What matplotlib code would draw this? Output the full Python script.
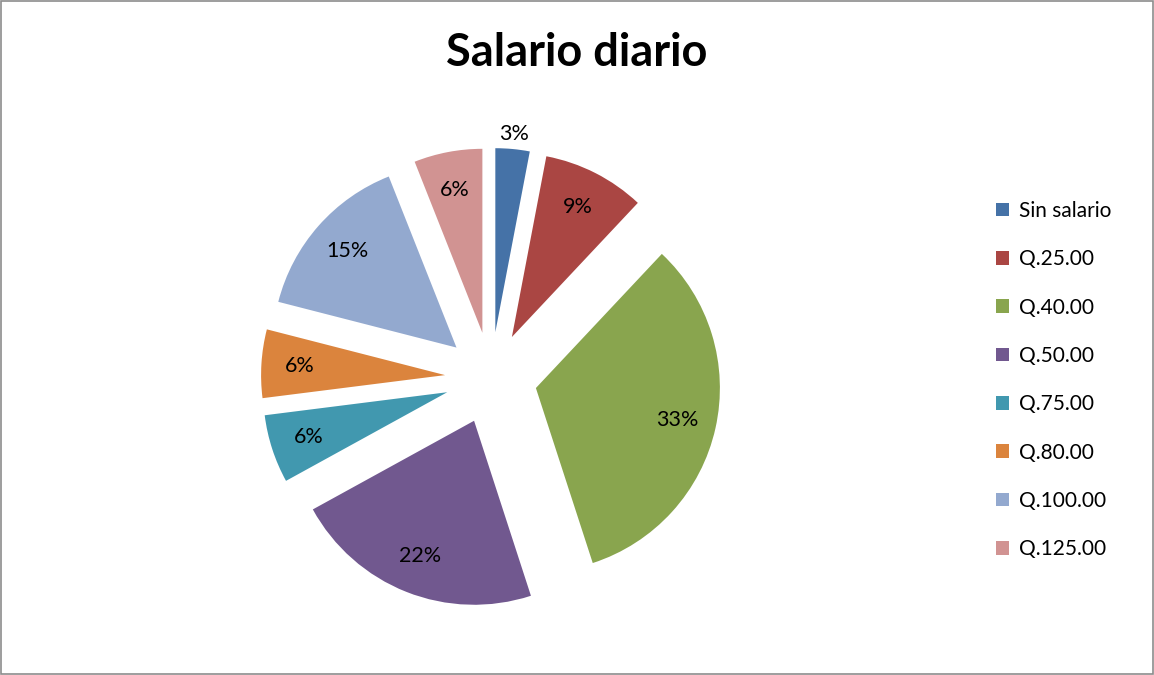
import matplotlib.pyplot as plt
from matplotlib.patches import Rectangle

# Data
labels = ["Sin salario", "Q.25.00", "Q.40.00", "Q.50.00",
          "Q.75.00", "Q.80.00", "Q.100.00", "Q.125.00"]
values = [3, 9, 33, 22, 6, 6, 15, 6]

colors = ["#4572A7", "#AA4643", "#89A54E", "#71588F",
          "#4198AF", "#DB843D", "#93A9CF", "#D19392"]

plt.rcParams['font.family'] = ['Lato', 'DejaVu Sans']

fig = plt.figure(figsize=(11.54, 6.75), dpi=100)
ax = fig.add_axes([0, 0, 1, 1])

radius = 184
wedges, texts, autotexts = ax.pie(
    values, colors=colors, explode=[46] * len(values),
    startangle=90, counterclock=False, radius=radius,
    center=(491, 297), autopct='%1.0f%%', pctdistance=0.79,
    wedgeprops={'linewidth': 0},
    textprops={'fontsize': 15.5, 'color': 'black'})

# small slice: label sits outside
w = wedges[0]
cx, cy = w.center
x, y = autotexts[0].get_position()
s = 1.08 / 0.79
autotexts[0].set_position((cx + (x - cx) * s, cy + (y - cy) * s))

ax.set_xlim(0, 1154)
ax.set_ylim(0, 675)
ax.set_axis_off()

fig.text(577 / 1154, 1 - 53 / 675, "Salario diario", ha='center', va='center',
         fontsize=32.5, fontweight='bold')

leg = ax.legend(wedges, labels, loc='center left',
                bbox_to_anchor=(977 / 1154, 1 - 380 / 675),
                bbox_transform=fig.transFigure, frameon=False,
                fontsize=15, handlelength=0.65, handleheight=0.65,
                handletextpad=0.45, labelspacing=1.36)

fig.patches.append(Rectangle((0.001, 0.001), 0.998, 0.997, transform=fig.transFigure,
                             fill=False, edgecolor='#8c8c8c', linewidth=1.2))

fig.savefig("out.png", dpi=100, facecolor='white')
